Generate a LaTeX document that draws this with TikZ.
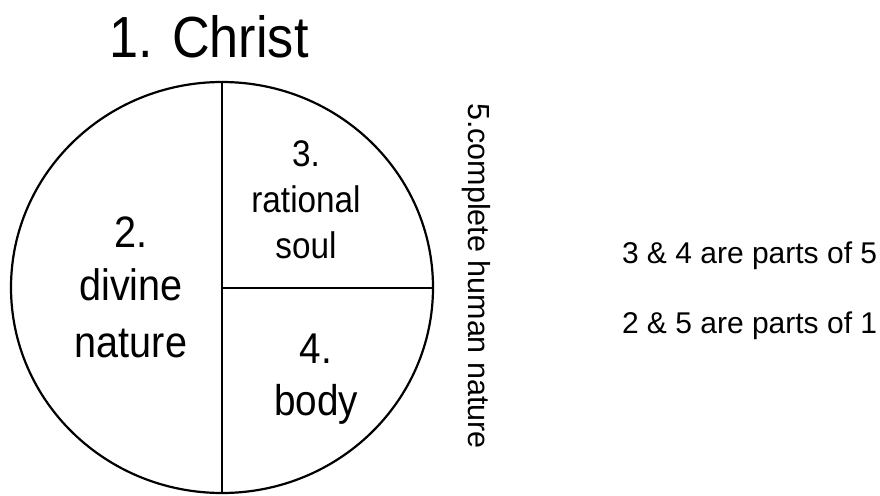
\documentclass[tikz,border=0pt]{standalone}
\usepackage{fontspec}
\setmainfont{Liberation Sans}
\newfontfamily\narrowf[FakeStretch=0.9]{Liberation Sans}
\begin{document}
\begin{tikzpicture}[x=1pt,y=-1pt,
  lbl/.style={inner sep=0pt,outer sep=0pt,align=center,text=black},
  line/.style={draw=black,line width=2.2pt}]
\useasboundingbox (0,0) rectangle (880,495);
\coordinate (c) at (222,287.5);
\draw[line] (c) ellipse [x radius=211, y radius=205.5];
\coordinate (top) at (222,82);
\coordinate (bot) at (222,493);
\coordinate (right) at (433,288);
\coordinate (mid) at (222,288);
\draw[line width=2pt] (top) -- (bot);
\draw[line width=2pt] (mid) -- (right);
\node[lbl,anchor=base] (t1) at (209,57) {\narrowf\fontsize{58}{58}\selectfont 1. Christ};
\node[lbl,anchor=base] (t2a) at (131,247) {\narrowf\fontsize{44}{44}\selectfont 2.};
\node[lbl,anchor=base] (t2b) at (131,300) {\narrowf\fontsize{44}{44}\selectfont divine};
\node[lbl,anchor=base] (t2c) at (131,357) {\narrowf\fontsize{44}{44}\selectfont nature};
\node[lbl,anchor=base] (t3a) at (306,166) {\narrowf\fontsize{37}{37}\selectfont 3.};
\node[lbl,anchor=base] (t3b) at (306,212) {\narrowf\fontsize{37}{37}\selectfont rational};
\node[lbl,anchor=base] (t3c) at (306,258) {\narrowf\fontsize{37}{37}\selectfont soul};
\node[lbl,anchor=base] (t4a) at (316,363) {\narrowf\fontsize{43}{43}\selectfont 4.};
\node[lbl,anchor=base] (t4b) at (316,415) {\narrowf\fontsize{43}{43}\selectfont body};
\node[lbl,rotate=-90,anchor=center] (t5) at (476,276) {\fontsize{30.5}{30.5}\selectfont 5.complete human nature};
\node[lbl,anchor=base west] (r1) at (622,263) {\fontsize{30}{30}\selectfont 3 \& 4 are parts of 5};
\node[lbl,anchor=base west] (r2) at (622,333) {\fontsize{30}{30}\selectfont 2 \& 5 are parts of 1};
\end{tikzpicture}
\end{document}
